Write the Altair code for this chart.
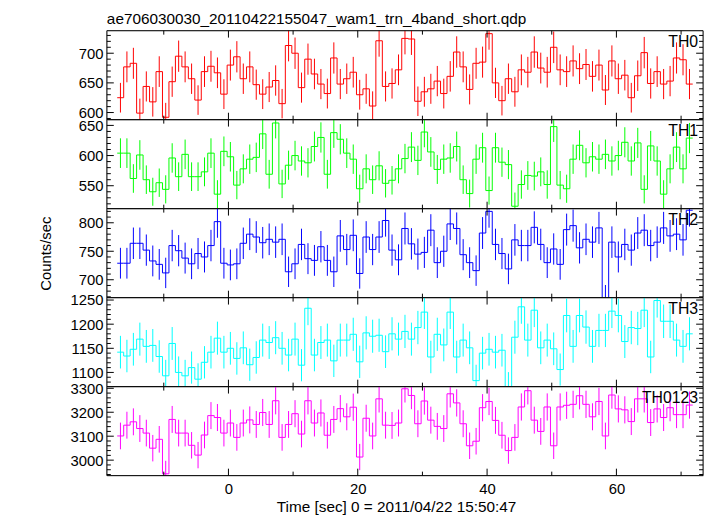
import altair as alt
import numpy as np
import pandas as pd

title_text = "ae706030030_20110422155047_wam1_trn_4band_short.qdp"
x_title = "Time [sec] 0 = 2011/04/22 15:50:47"
y_title = "Counts/sec"

bin_start = -17.2
bin_width = 1.0

names = ["TH0", "TH1", "TH2", "TH3", "TH0123"]
colors = ["#ff0000", "#00ff00", "#0000ff", "#00ffff", "#ff00ff"]

th0 = [625, 677, 683, 599, 644, 618, 669, 592, 652, 695,
       677, 657, 621, 669, 678, 667, 631, 680, 694, 657,
       677, 647, 631, 643, 654, 615, 713, 700, 642, 690,
       665, 648, 632, 692, 648, 657, 668, 630, 640, 611,
       721, 644, 649, 672, 725, 724, 619, 635, 640, 653,
       632, 661, 702, 677, 639, 683, 685, 733, 650, 620,
       657, 635, 672, 668, 702, 675, 668, 710, 672, 669,
       687, 674, 681, 661, 680, 638, 687, 657, 663, 625,
       662, 701, 649, 669, 648, 653, 692, 689, 648]

th1 = [604, 604, 562, 601, 560, 540, 555, 544, 596, 565,
       602, 565, 565, 573, 604, 536, 607, 598, 551, 578,
       594, 597, 636, 569, 654, 553, 584, 600, 591, 588,
       615, 630, 569, 638, 627, 604, 594, 545, 578, 560,
       583, 554, 559, 578, 595, 614, 592, 639, 606, 577,
       594, 596, 615, 560, 537, 594, 613, 542, 613, 589,
       585, 516, 552, 567, 566, 573, 552, 648, 551, 545,
       594, 617, 588, 598, 594, 602, 591, 600, 622, 591,
       621, 544, 616, 591, 536, 578, 614, 578, 629]

th2 = [729, 729, 764, 764, 752, 733, 727, 712, 760, 751,
       738, 728, 746, 740, 760, 802, 729, 726, 728, 764,
       780, 775, 765, 771, 766, 771, 714, 728, 762, 737,
       734, 758, 734, 714, 777, 753, 778, 711, 775, 753,
       775, 804, 752, 735, 790, 763, 745, 748, 787, 730,
       750, 798, 790, 744, 730, 716, 782, 820, 762, 746,
       719, 770, 760, 760, 792, 762, 730, 754, 727, 788,
       795, 756, 771, 766, 791, 665, 766, 740, 762, 752,
       782, 787, 760, 766, 791, 777, 780, 770, 822]

th3 = [1142, 1134, 1148, 1169, 1154, 1156, 1133, 1093, 1160, 1100,
       1093, 1110, 1086, 1121, 1142, 1171, 1142, 1150, 1129, 1151,
       1116, 1131, 1167, 1162, 1172, 1150, 1136, 1169, 1115, 1233,
       1136, 1162, 1167, 1124, 1167, 1167, 1179, 1122, 1182, 1175,
       1177, 1143, 1180, 1169, 1185, 1169, 1193, 1225, 1132, 1179,
       1157, 1225, 1132, 1167, 1151, 1083, 1140, 1148, 1142, 1146,
       1068, 1173, 1236, 1167, 1229, 1151, 1167, 1149, 1106, 1218,
       1154, 1218, 1194, 1154, 1187, 1187, 1227, 1218, 1164, 1193,
       1191, 1229, 1132, 1249, 1206, 1206, 1167, 1154, 1180]

th0123 = [3101, 3146, 3160, 3132, 3113, 3050, 3087, 2943, 3170, 3113,
          3113, 3062, 3021, 3105, 3186, 3178, 3113, 3155, 3095, 3155,
          3168, 3149, 3199, 3149, 3248, 3095, 3149, 3194, 3109, 3248,
          3155, 3197, 3104, 3170, 3215, 3181, 3221, 3013, 3175, 3101,
          3256, 3146, 3145, 3155, 3298, 3270, 3152, 3247, 3167, 3141,
          3132, 3277, 3239, 3152, 3060, 3079, 3219, 3245, 3166, 3104,
          3040, 3095, 3222, 3290, 3167, 3120, 3222, 3060, 3222, 3229,
          3233, 3269, 3233, 3181, 3245, 3101, 3272, 3214, 3210, 3161,
          3256, 3256, 3157, 3214, 3178, 3219, 3190, 3190, 3230]

series = [th0, th1, th2, th3, th0123]
y_domains = [[588, 738], [512, 659.5], [668.6, 824.8], [1070.6, 1255], [2935.5, 3307]]
y_labels = [[600, 650, 700], [550, 600, 650], [700, 750, 800],
            [1100, 1150, 1200, 1250], [3000, 3100, 3200, 3300]]
y_minor_step = [10, 10, 10, 10, 20]
y_major_step = [50, 50, 50, 50, 100]

x_domain = [-18.8, 73.4]
x_labels = [0, 20, 40, 60]
x_minor_ticks = [-10, 10, 30, 50, 70]

W = 603
H = 90
FONT = "Liberation Sans"
MAJ = 7
MIN = 4


def make_panel(i):
    vals = np.array(series[i], dtype=float)
    n = len(vals)
    edges = bin_start + bin_width * np.arange(n + 1)
    step_df = pd.DataFrame({"t": edges, "v": np.append(vals, vals[-1])})
    err = np.sqrt(vals * bin_width) / bin_width
    err_df = pd.DataFrame({"t": edges[:-1] + bin_width / 2, "v": vals - err, "hi": vals + err})

    lo, hi = y_domains[i]
    ticks_all = np.arange(np.ceil(lo / y_minor_step[i]) * y_minor_step[i], hi, y_minor_step[i])
    maj = [v for v in ticks_all if abs(v / y_major_step[i] - round(v / y_major_step[i])) < 1e-9]
    mnr = [v for v in ticks_all if v not in maj]
    ymaj_df = pd.DataFrame({"v": maj})
    ymin_df = pd.DataFrame({"v": mnr})
    xmaj_df = pd.DataFrame({"t": x_labels})
    xmin_df = pd.DataFrame({"t": x_minor_ticks})

    xs = alt.Scale(domain=x_domain, nice=False, zero=False)
    ys = alt.Scale(domain=y_domains[i], nice=False, zero=False)
    col = colors[i]
    last = i == len(series) - 1

    if last:
        x_axis = alt.Axis(values=x_labels, ticks=False, domain=False, grid=False,
                          labelFontSize=15, labelFont=FONT, labelColor="black",
                          labelPadding=6, labelFlush=False, format="d",
                          title=x_title, titleFontSize=15.5, titleFont=FONT,
                          titleFontWeight="normal", titleColor="black", titlePadding=3,
                          titleX=W / 2 - 9)
    else:
        x_axis = alt.Axis(values=x_labels, ticks=False, domain=False, grid=False,
                          labels=False, title=None)

    y_axis_kw = dict(values=y_labels[i], ticks=False, domain=False, grid=False,
                     labelFontSize=15, labelFont=FONT, labelColor="black",
                     labelPadding=4, labelFlush=False, labelOverlap=False, format="d")
    if i == 2:
        y_axis = alt.Axis(title=y_title, titleFontSize=15, titleFont=FONT,
                          titleFontWeight="normal", titleColor="black",
                          titleX=-54, titleY=H / 2, titleAlign="center", **y_axis_kw)
    else:
        y_axis = alt.Axis(title=None, **y_axis_kw)

    X = lambda f: alt.X(f, scale=xs, axis=x_axis)
    Y = lambda f: alt.Y(f, scale=ys, axis=y_axis)

    line = alt.Chart(step_df).mark_line(
        interpolate="step-after", color=col, strokeWidth=1, clip=True
    ).encode(x=X("t:Q"), y=Y("v:Q"))
    errs = alt.Chart(err_df).mark_rule(color=col, strokeWidth=1, clip=True).encode(
        x=X("t:Q"), y=Y("v:Q"), y2="hi:Q")

    def yt(df, x1, x2):
        return alt.Chart(df).mark_rule(color="black", strokeWidth=1).encode(
            y=Y("v:Q"), x=alt.value(x1), x2=alt.value(x2))

    def xt(df, y1, y2):
        return alt.Chart(df).mark_rule(color="black", strokeWidth=1).encode(
            x=X("t:Q"), y=alt.value(y1), y2=alt.value(y2))

    tick_layers = [
        yt(ymaj_df, 0, MAJ), yt(ymin_df, 0, MIN),
        yt(ymaj_df, W - MAJ, W), yt(ymin_df, W - MIN, W),
        xt(xmaj_df, 0, MAJ), xt(xmin_df, 0, MIN),
        xt(xmaj_df, H - MAJ, H), xt(xmin_df, H - MIN, H),
    ]

    one = pd.DataFrame({"k": [0]})
    frame = [
        alt.Chart(one).mark_rule(color="black", strokeWidth=1).encode(
            x=alt.value(0), y=alt.value(0), y2=alt.value(H)),
        alt.Chart(one).mark_rule(color="black", strokeWidth=1).encode(
            x=alt.value(W), y=alt.value(0), y2=alt.value(H)),
        alt.Chart(one).mark_rule(color="black", strokeWidth=1).encode(
            x=alt.value(0), x2=alt.value(W), y=alt.value(0)),
        alt.Chart(one).mark_rule(color="black", strokeWidth=1).encode(
            x=alt.value(0), x2=alt.value(W), y=alt.value(H)),
    ]

    label = alt.Chart(pd.DataFrame({"name": [names[i]]})).mark_text(
        align="right", baseline="alphabetic", fontSize=16, font=FONT, color="black"
    ).encode(text="name:N", x=alt.value(W - 5), y=alt.value(17))

    layers = [errs, line] + tick_layers + frame + [label]
    if i == 0:
        ttl = alt.Chart(pd.DataFrame({"s": [title_text]})).mark_text(
            align="left", baseline="alphabetic", fontSize=15.5, font=FONT, color="black"
        ).encode(text="s:N", x=alt.value(0), y=alt.value(-7))
        layers.append(ttl)

    return alt.layer(*layers).properties(width=W, height=H)


panels = [make_panel(i) for i in range(len(series))]

chart = alt.vconcat(*panels, spacing=0, bounds="flush").properties(
    padding={"left": 30, "top": 0, "right": 5, "bottom": 5}
).configure_view(stroke=None).configure(background="white")

chart.save("out.html", embed_options={"renderer": "svg", "actions": False})
